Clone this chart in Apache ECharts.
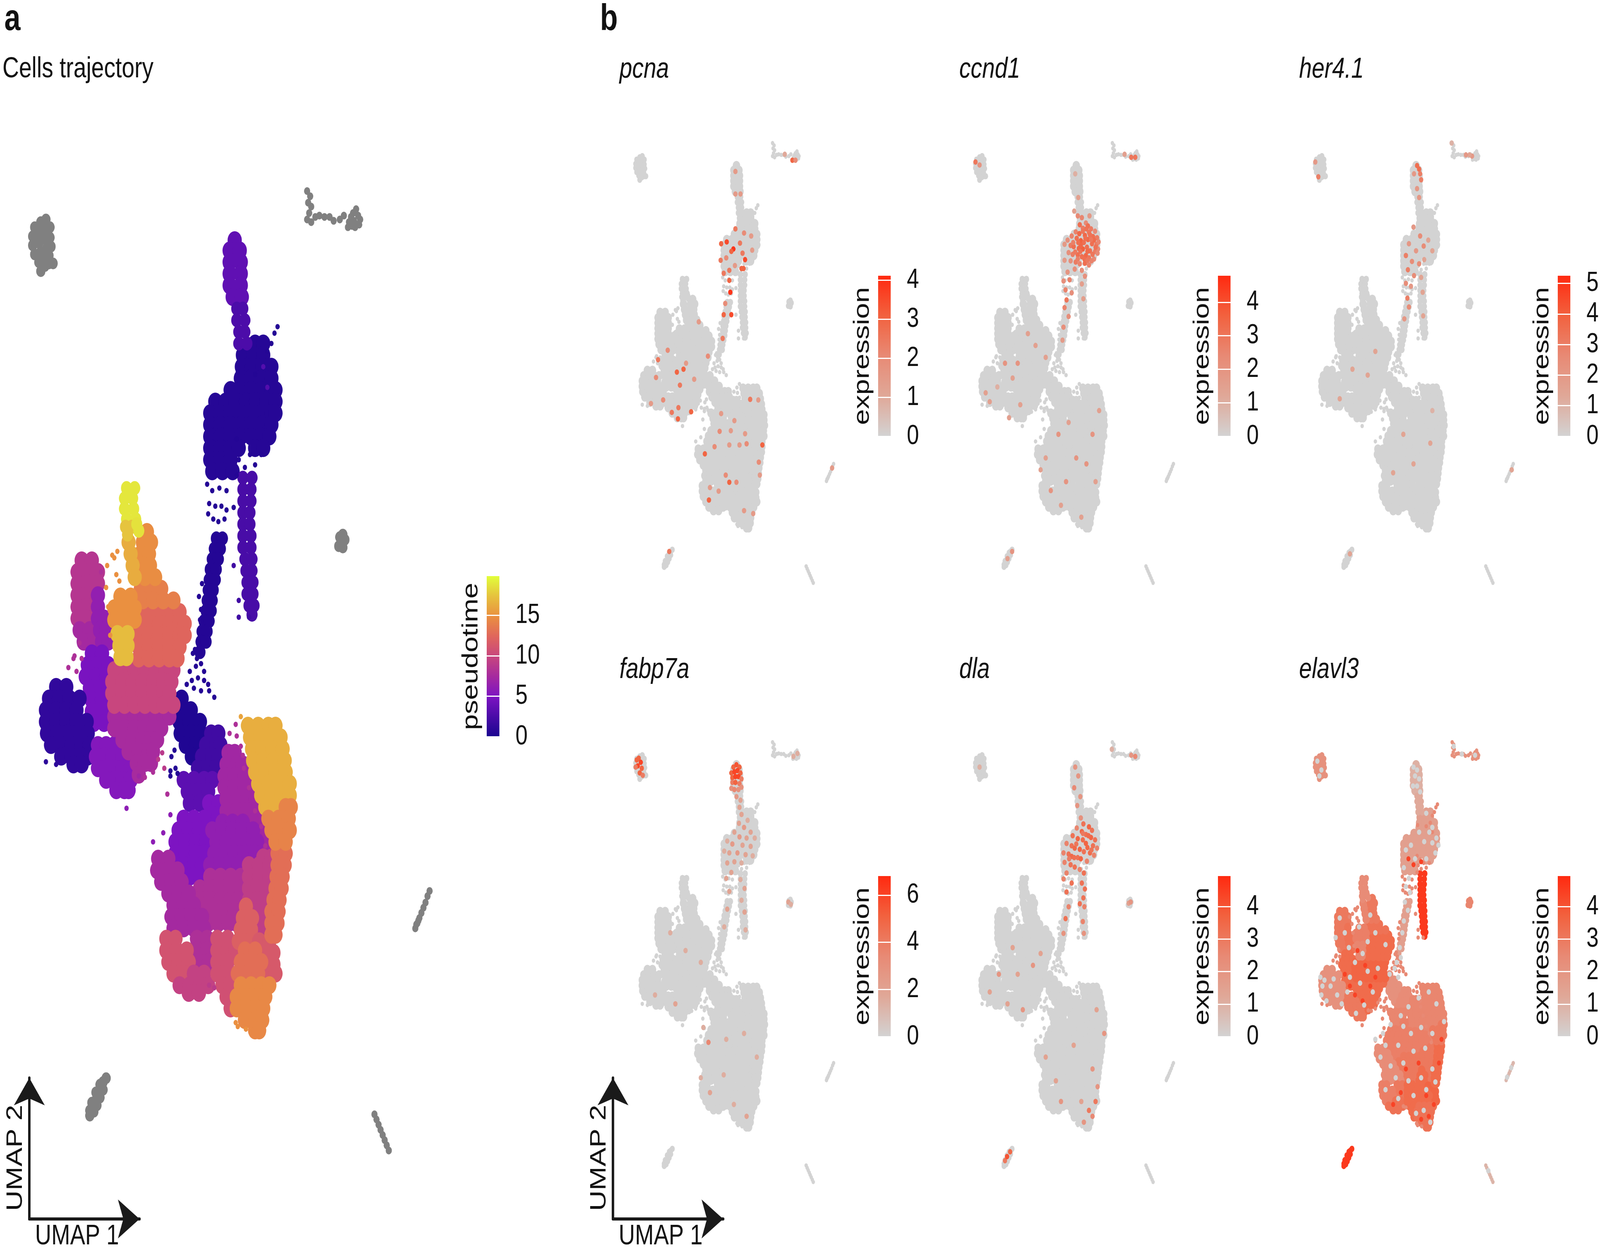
<!DOCTYPE html>
<html style="height: 100%">
<head>
    <meta charset="UTF-8">
    <script type="text/javascript" src="https://cdn.jsdelivr.net/npm/echarts@6/dist/echarts.min.js"></script>
    <style type="text/css">
        html, body {margin:0; padding:0; width:100%; height:100%; overflow:hidden; background:#fff}
    </style>
</head>
<body>
<div id="container" style="width:5184px;height:3203px;transform-origin:0 0"></div>
<script>
// all cell positions are in UMAP units of panel a (0-440 across, 0-900 down)
// patch = [pseudotime, elavl3 level, rows], row = [y, x, x, x ...]
var bodyPatches = [
    [3.6, 1.0, [[186,230],[194,225,235],[203,225,236],[212,225,236],[221,225,236],[230,228,237]]],
    [0.6, 1.6, [[266,250,258],[275,238,248,258],[284,237,247,257,266],[293,236,246,256,266],[302,226,236,246,256,266,270],[311,211,221,231,241,251,261,270],[320,206,216,226,236,246,256,266,270],[329,206,216,226,236,246,256,266],[338,206,216,226,236,246,256,264],[347,206,216,226,234,250,258],[356,206,216,226],[365,208,218,228]]],
    // lower navy block
    [0.3, 2.2, [[541,178],[550,177,187],[559,176,186,196],[568,177,187,197],[577,182,192],[586,188]]],
    [2.0, 2.4, [[568,207,214],[577,202,212,216],[586,198,208,214],[595,194,204,212]]],
    [3.4, 2.6, [[604,180,190,200,208],[613,184,194,204],[622,186,196]]],
    [5.0, 2.8, [[622,205,214],[631,208,214],[634,180,190,200],[643,175,185,195],[652,172,182,192,202],[661,172,182,192,200],[670,180,190,198],[679,186,196]]],
    [7.2, 2.6, [[583,224,230],[592,222,232,238],[601,220,230,240],[610,220,230,240,246],[619,222,232,242,250],[628,222,232,242,252],[637,248,256],[646,254,260],[655,258,264]]],
    [6.2, 2.8, [[637,218,228,238],[643,208,218,228,238,248],[652,212,222,232,242,252],[661,210,220,230,240,250],[670,206,216,226,234]]],
    [8.0, 3.0, [[679,206,216,226,236],[688,196,206,216,226,236,245],[697,196,206,216,226,233],[706,200,210,220,230],[715,204,214,224,232]]],
    [7.4, 2.4, [[665,155,165],[674,154,164,174],[683,158,168,178],[692,165,175,185],[701,170,180,190],[710,168,178,188,198],[719,170,180,190,200]]],
    [8.0, 3.0, [[727,193,203],[736,193,203],[745,195,205]]],
    [9.3, 3.0, [[664,258,266],[670,244,254,264],[679,244,254,264],[688,244,252,262],[697,244,253,262],[706,246,255,262],[715,254,262],[724,256]]],
    [11.0, 2.8, [[727,163,172],[736,163,173,183],[745,165,175,185],[754,170,180]]],
    [9.6, 3.2, [[754,190,200],[763,176,186,196,204],[769,185,195]]],
    [10.8, 3.4, [[727,213,223],[736,213,223,231],[745,213,223],[754,213,223],[763,218,226],[772,222],[781,226]]],
    [12.0, 3.4, [[702,241],[711,238,247],[720,236,246],[729,234,244]]],
    [11.5, 3.6, [[729,254,264],[738,260,268],[747,258,268],[754,262,270]]],
    [13.0, 3.4, [[661,272,280],[670,272,279],[679,271,277],[688,270,276],[697,268,274],[706,266,273],[715,266,272],[724,266,270],[736,240,250],[745,236,246,256],[754,233,243,253]]],
    [14.5, 3.2, [[763,236,246,256,264],[772,232,242,252,260],[781,232,242,252,258],[790,240,250,257],[798,250,254]]],
    [16.5, 2.6, [[562,243,253,263,270],[571,245,255,265,275],[580,247,257,267,277],[589,248,258,268,279],[598,250,260,270,280],[607,253,263,273,284],[616,256,266,276,284],[625,260,270]]],
    [14.2, 3.0, [[625,280,285],[634,263,273,283],[643,266,276,284],[652,270,280]]],
    // left body
    [8.6, 3.0, [[434,80,90],[443,76,86,96],[452,76,86,96],[461,76,86],[470,76,86],[479,76,86]]],
    [7.4, 3.0, [[488,78,88],[497,82,92]]],
    [6.3, 3.2, [[461,96],[470,96],[479,96,102],[488,98,104],[497,100,106]]],
    [4.8, 3.4, [[506,90,100],[515,86,96,106],[524,84,94,104],[533,88,98,106],[542,90,100],[551,90,102],[560,92,102]]],
    [1.2, 2.2, [[532,55,65],[541,48,58,68,78],[550,45,55,65,75],[559,45,55,65,75,85],[568,46,56,66,76,86],[577,50,60,70,80,88],[586,60,70,80,86],[592,72,80]]],
    [5.4, 3.0, [[577,96,104,112],[586,94,102,110,120],[595,96,104,112,120,128],[604,104,112,120,128],[612,114,122,126]]],
    [7.6, 3.4, [[555,112,122,132,142,152,160,166],[564,112,122,132,142,150,158],[573,120,130,140,148,154],[582,126,136,146,150],[591,134,142,148],[600,136]]],
    [10.0, 3.6, [[519,112,122,132,142,152,162,170],[528,110,120,130,140,150,160,168],[537,110,120,130,140,150,160,166],[546,112,122,132,142,152,160,170]]],
    [12.4, 3.4, [[474,138,148,158,168,176],[483,136,146,156,166,176,181],[492,136,146,156,166,176,181],[501,136,146,156,166,176],[510,136,146,156,166,174]]],
    [14.0, 3.2, [[456,138,148,158],[465,140,150,160,170]]],
    [14.8, 3.0, [[412,144],[420,140,148],[429,138,146],[438,140,147],[447,142,152]]],
    [15.0, 2.8, [[462,118,128],[471,112,122,132],[480,112,122,132]]],
    [16.4, 2.6, [[420,126],[429,128],[438,130],[447,132]]],
    [17.2, 2.6, [[491,115,125],[500,117,125],[509,118,124]]]
];
// narrow bits get a smaller dot
var thinPatches = [
    [2.6, 1.2, [[239,232,238],[248,232,240],[257,234,240],[266,234,242]]],
    [2.4, 4.6, [[370,238,247],[379,238,246],[388,238,246],[397,238,245],[406,238,245],[415,238,246],[424,238,246],[433,240,247],[442,241,247],[451,242,248],[460,242,248],[469,244,249],[476,247]]],
    [0.5, 1.6, [[417,212,218],[425,210,216],[433,208,214],[441,206,212],[449,205,211],[457,204,209],[465,203,208],[473,202,207],[481,200,205],[489,198,203],[497,197,202],[505,196]]],
    [19.0, 2.4, [[378,124,132],[386,122,130],[394,122,131],[402,124,133]]],
    [17.6, 2.4, [[408,123,129],[414,125]]],
    [18.8, 2.4, [[406,134],[411,136]]]
];
// [x, y, pseudotime]
var strayCells = [
    [203,375,0.5],[208,380,0.5],[215,378,0.5],[222,380,0.5],[205,390,0.5],[211,392,0.5],[217,392,0.5],[204,398,0.5],[209,402,0.5],[214,404,0.5],[220,402,0.5],[222,395,0.5],[229,393,0.5],
    [232,340,0.5],[238,346,0.5],[245,352,0.5],[234,356,0.5],[240,362,0.5],[250,360,0.5],[256,352,0.5],[232,368,0.5],[262,300,3],[258,284,3],[262,272,0.5],[266,266,0.5],[269,258,0.5],[272,253,0.5],[250,290,0.5],[233,288,0.5],
    [198,452,0.5],[195,462,0.5],[197,472,0.5],[196,480,0.5],[191,503,0.5],[193,510,0.5],[189,506,0.5],[192,516,0.5],[197,514,0.5],[200,520,0.5],[186,520,0.5],[188,527,0.5],[194,525,0.5],[200,527,0.5],[204,530,0.5],[183,530,0.5],[190,533,0.5],[197,535,0.5],[205,535,0.5],[210,540,0.5],[229,438,2],[234,465,2],[234,478,2],[244,478,2],
    [110,430,15],[115,427,15],[112,432,15],[105,438,15],[114,445,15],[117,450,15],[99,443,8],[104,455,15],[106,470,15],[108,492,15],
    [72,510,8],[75,520,8],[67,517,8],[73,508,8],[78,498,8],[80,510,8],
    [159,583,9],[155,588,9],[161,595,9],[150,598,8],[142,602,8],[136,601,7],[124,626,6],[167,631,6],[150,652,6],[160,645,6],[164,615,8],
    [236,555,16],[231,561,8],[225,568,8],[232,570,8],[236,578,8],[238,585,8],[239,595,8],[244,610,8],[250,628,8],[256,640,8],[260,655,8],
    [171,581,0.5],[168,586,0.5],[167,597,0.5],[167,601,0.5],[172,595,0.5],[174,599,0.5],
    [231,792,15],[233,795,15],[241,797,15],[205,763,9],[210,765,9],[45,590,1],[55,592,1]
];
// islands: [elavl3 level, flat x,y pairs]
var islandTopLeft = [2.2, [34,176,40,172,45,170,32,183,38,180,44,177,49,176,32,190,38,188,44,185,49,184,34,197,40,195,46,192,50,191,38,203,44,200,48,198,40,210,44,206,48,204,52,204]];
var islandTopRight = [2.2, [301,148,304,152,302,157,305,160,303,165,301,170,305,172,309,168,313,167,318,168,323,168,327,171,333,170,337,167,342,172,347,171,351,167,345,175,350,174,353,170,349,162,344,168,348,176,352,174,346,165,341,176]];
var islandSmall = [2.6, [333,416,336,414,335,420,332,423,336,424,338,418]];
var stickRight = [0.8, [421,690,419,694,417,699,415,703,413,707,411,711,409,715,407,719,408,716,410,713]];
var stickLow = [0.9, [367,863,369,867,371,871,373,875,375,879,377,883,379,887,381,891]];
var islandLow = [4.6, [104,835,101,838,98,840,101,844,97,846,94,846,98,850,94,852,90,854,95,856,91,858,88,860,92,861,88,864]];
var blobIslands = [islandTopLeft, islandSmall, islandLow];
var lineIslands = [islandTopRight, stickRight, stickLow];

var geneNames = ['pcna', 'ccnd1', 'her4.1', 'fabp7a', 'dla', 'elavl3'];
var geneMax = [4.11, 4.79, 5.25, 6.81, 4.94, 4.94];
var geneTicks = [[0,1,2,3,4], [0,1,2,3,4], [0,1,2,3,4,5], [0,2,4,6], [0,1,2,3,4], [0,1,2,3,4]];
var pseudotimeTicks = [0, 5, 10, 15];
var pseudotimeMax = 19.85;

// expressing cells, [x, y, expression]
var pcnaCells = [[211,315,3.5],[200,318,3],[224,327,3.9],[220,331,3],[228,293,2.5],[245,300,2],[237,317,2.5],[242,334,2.5],[259,305,1.5],[199,346,2.5],[210,342,2],[227,355,1.5],[240,360,3],[244,360,3],[205,368,2.5],[216,363,2.5],[216,380,3],[218,400,3.9],[208,419,2],[205,438,3],[220,438,3.5],[203,478,2.5],[228,234,1.5],[238,234,1.5],[228,196,1.5],[247,345,3.5],[261,329,1.5],[95,498,2],[76,514,2.5],[72,544,2],[113,535,3],[119,557,2.5],[126,530,3],[131,520,1.5],[156,450,1.5],[116,595,2.5],[103,603,2.5],[115,614,3],[141,602,3],[86,582,2],[62,588,1.5],[174,508,2],[147,547,1.5],[197,635,2],[219,634,1.5],[168,673,3],[187,661,2],[216,658,1.5],[236,658,1.5],[250,656,2],[281,658,3],[274,687,2],[209,709,2],[216,721,3],[230,721,2],[178,730,1.5],[176,751,3],[195,736,1.5],[257,581,2.5],[273,582,1.5],[226,617,1.5],[200,605,1.5],[247,639,1.5],[263,774,1.5],[276,709,1.5],[245,769,1.5],[340,177,3],[346,177,2],[325,167,1],[418,697,1.5],[98,838,2.5]];
var ccnd1Cells = [[226,263,1.5],[233,271,2.4],[241,274,2.5],[249,283,2.4],[256,271,1.8],[237,286,3.2],[243,292,2.8],[253,288,3.2],[259,293,2.8],[267,297,2.4],[229,298,2.6],[236,301,3.4],[247,304,3.4],[255,299,3],[263,306,3.2],[271,308,2.8],[221,305,2.6],[213,312,2.2],[231,309,3.2],[239,313,3.6],[245,316,3.2],[253,311,3.4],[261,318,3.2],[270,319,2.8],[207,319,1.8],[219,321,2.8],[225,323,3.2],[235,326,3.4],[243,327,3.6],[251,324,3.2],[257,330,3.2],[267,331,2.8],[273,327,2.4],[215,333,2.2],[223,336,2.8],[233,337,3.2],[241,340,3.2],[249,338,3.4],[255,342,3],[265,344,2.4],[219,347,2.2],[229,349,2.8],[237,352,2.6],[247,351,3.2],[255,354,2.6],[207,346,1.7],[227,361,2.2],[213,366,2],[241,363,2.2],[247,373,2.1],[243,297,3],[250,293,3.1],[265,312,3.3],[259,311,2.9],[274,315,2.5],[268,324,3.1],[262,336,3],[239,321,3.4],[228,332,2.9],[246,344,3.2],[233,344,2.7],[224,316,2.7],[252,331,3.3],[238,331,3.1],[257,303,3.1],[272,334,2.4],[260,347,2.6],[252,346,2.9],[234,316,3.2],[248,309,3.2],[205,381,2.2],[217,379,2.6],[209,396,2.6],[221,401,2.2],[211,413,3],[207,426,2.6],[215,441,2.2],[205,459,2.2],[203,481,1.7],[241,386,1.6],[244,411,1.6],[228,200,1],[234,240,1.5],[52,570,1.5],[60,585,1.5],[90,520,2],[105,545,1.5],[120,590,1.5],[150,490,1.5],[170,510,1.5],[135,470,1.5],[98,612,1.5],[115,520,2],[75,560,1],[170,680,1.5],[195,640,2],[215,620,1.5],[230,680,2],[262,640,2],[250,690,2],[268,720,1.5],[180,735,2],[200,760,1.5],[240,780,1.5],[210,720,2],[275,600,1.5],[160,700,1.5],[32,180,3],[40,185,2],[338,172,3],[346,172,3],[325,167,1.5],[95,850,1.5],[104,838,2]];
var her41Cells = [[232,186,3.5],[236,192,3.5],[238,200,3],[226,200,2],[240,210,3],[232,225,2],[236,240,2],[225,290,2],[238,305,2.5],[216,318,2],[245,322,2.5],[230,330,2],[210,338,3],[254,312,1.5],[262,330,1.5],[222,348,2.5],[236,352,2.5],[246,345,1.5],[214,362,3],[226,372,2.5],[210,385,2.5],[220,390,2],[240,375,1.5],[243,400,1.5],[213,410,3],[216,425,2.5],[207,445,2],[244,440,1.5],[32,180,2],[38,205,3],[105,530,1.5],[135,540,1.5],[150,500,1.5],[80,580,1.5],[205,640,1.5],[225,690,1.5],[258,655,1.5],[185,705,1.5],[340,170,2],[335,168,1.5],[328,168,2],[300,148,1],[418,700,1.5],[100,842,1.5],[262,600,1]];
var fabp7aCells = [[224,190,5],[230,186,5.5],[236,190,5],[220,200,5],[226,198,6],[232,196,6],[238,200,5],[222,208,5],[228,206,6],[234,206,6],[240,210,4],[222,216,4],[228,216,5],[236,218,4],[220,226,3],[226,228,3.5],[234,228,3],[240,224,3],[230,240,2.5],[238,246,2],[236,258,2],[240,270,2],[252,280,1.5],[235,285,2],[245,292,2.5],[258,300,2],[226,300,2],[236,308,2.5],[250,310,2],[266,310,1.5],[212,315,1.5],[222,320,2.5],[242,322,2],[258,324,2],[206,332,1.5],[216,335,2],[232,335,2.5],[248,338,2],[262,340,1.5],[212,352,2],[226,350,2],[240,352,1.5],[220,368,2],[210,378,2],[238,380,1.5],[246,395,2],[216,400,2],[240,415,1.5],[246,435,2],[212,430,2],[206,460,1.5],[248,465,1.5],[34,178,5],[38,175,5],[42,182,6],[36,188,6],[44,192,5],[40,200,5],[46,204,4],[32,190,4],[100,470,1.5],[130,500,1.5],[160,520,1.5],[70,575,1.5],[110,590,2],[165,630,1.5],[175,655,3.5],[210,650,1.5],[245,640,1.5],[270,680,1.5],[205,710,1.5],[225,760,1.5],[250,780,2],[178,740,2],[160,715,1.5],[350,167,1.5],[342,172,1.5],[332,418,2],[337,422,1.5]];
var dlaCells = [[239,276,2.2],[244,286,3.2],[255,291,3.6],[261,297,3.2],[231,293,2.6],[241,299,3.6],[249,304,3.2],[259,309,3.6],[267,313,3.2],[223,306,3.2],[233,311,3.6],[243,313,3.4],[249,319,3.6],[263,323,3.2],[271,327,2.7],[211,319,2.7],[221,323,3.2],[227,327,3.5],[237,329,3.6],[245,333,3.2],[257,335,3.4],[265,339,2.7],[205,335,2.7],[215,337,3.2],[221,341,3.5],[233,343,3.2],[239,345,3.6],[251,349,2.7],[207,351,2.7],[219,355,3.2],[227,359,3.2],[237,363,2.7],[245,369,3.2],[211,369,2.7],[205,379,2.7],[221,386,3.2],[241,386,3.2],[247,396,3.2],[244,411,3.2],[211,401,3.2],[237,421,3.2],[246,426,2.7],[215,426,2.7],[209,446,3.2],[243,451,2.7],[245,471,2.1],[205,471,2.1],[228,190,2],[234,205,2],[226,225,2.5],[238,240,2],[232,255,2],[254,306,3.4],[230,320,3.1],[252,326,3.5],[216,345,2.9],[243,302,3],[260,330,3.1],[226,343,3.3],[105,495,1.5],[78,540,2],[115,540,1.5],[145,525,2],[160,505,1.5],[60,570,1.5],[95,590,1.5],[125,600,2],[170,680,1.5],[190,720,1.5],[225,660,1.5],[262,700,2],[268,755,3],[255,770,3],[262,780,2.5],[245,790,2],[240,755,1.5],[272,730,2],[200,755,2],[285,640,2],[270,600,1.5],[90,855,3],[100,840,3.5],[94,848,4],[338,170,2],[346,172,2.5],[300,160,1],[333,420,1.5],[337,418,2],[40,190,1]];
// elavl3 is on nearly everywhere, so these list the cells that are off and the brightest ones
var elavl3Off = [[225,190],[232,195],[228,205],[236,210],[224,222],[232,222],[238,232],[250,268],[262,292],[270,310],[274,322],[262,318],[256,300],[268,335],[246,316],[236,300],[220,322],[210,330],[228,345],[250,345],[206,360],[216,378],[210,392],[218,402],[208,418],[214,432],[206,450],[203,470],[198,495],[192,520],[188,530],[200,512],[178,540],[195,545],[42,545],[46,560],[44,575],[50,550],[54,585],[62,560],[68,548],[75,575],[84,590],[80,445],[90,470],[72,478],[98,495],[110,520],[125,505],[135,485],[150,470],[118,460],[140,440],[100,545],[120,555],[135,535],[155,530],[170,490],[145,570],[128,592],[112,606],[95,570],[180,625],[200,610],[215,595],[235,580],[255,570],[270,590],[285,620],[262,640],[240,630],[220,640],[195,660],[170,660],[160,680],[180,695],[205,690],[225,670],[248,665],[262,700],[240,715],[215,720],[190,715],[170,735],[195,750],[225,745],[250,735],[268,722],[245,770],[230,775],[258,790],[205,628],[150,650],[165,640],[36,180],[44,195],[40,205],[304,155],[320,168],[346,170],[409,714],[417,698],[372,872]];
var elavl3High = [[100,560,4.4],[110,575,4.4],[125,585,4.4],[140,560,4.4],[150,545,4.4],[130,525,4.4],[90,540,4.4],[115,500,4.4],[210,700,4.4],[235,690,4.4],[250,745,4.4],[265,760,4.4],[240,785,4.4],[255,780,4.4],[200,740,4.4],[185,760,4.4],[275,690,4.4],[280,650,4.4],[225,355,4.4],[215,345,4.4],[240,350,4.4]];
var elavl3StrayLevel = 2.5;
var geneCells = [pcnaCells, ccnd1Cells, her41Cells, fabp7aCells, dlaCells];

var plasma = ['#1a0590','#4a0ca8','#7d14c2','#a62a9f','#c8467e','#e0665c','#ea9040','#e6c23e','#e2ff3a'];
var greyRed = ['#d3d3d3','#e0a898','#e88a75','#f2623f','#ff2a10'];
var textFont = '"Liberation Sans", Arial, sans-serif';

function expandPatch(patch, which) {
    var out = [];
    patch[2].forEach(function (row) {
        for (var i = 1; i < row.length; i++) {
            out.push([row[i], row[0], patch[which]]);
        }
    });
    return out;
}
function patchCells(list, which) {
    var out = [];
    list.forEach(function (p) { out = out.concat(expandPatch(p, which)); });
    return out;
}
function islandPoints(list, useLevel) {
    var out = [];
    list.forEach(function (isl) {
        for (var i = 0; i < isl[1].length; i += 2) {
            out.push([isl[1][i], isl[1][i + 1], useLevel ? isl[0] : 0]);
        }
    });
    return out;
}
function flat(cells) {
    return cells.map(function (c) { return [c[0], c[1], 0]; });
}

var grids = [], xAxes = [], yAxes = [], series = [], visualMaps = [], titles = [];

function addPanelGrid(left, top, width, height) {
    grids.push({left: left, top: top, width: width, height: height});
    xAxes.push({gridIndex: grids.length - 1, type: 'value', min: 0, max: 440, show: false});
    yAxes.push({gridIndex: grids.length - 1, type: 'value', min: 0, max: 900, inverse: true, show: false});
    return {x: xAxes.length - 1, y: yAxes.length - 1};
}
function addDots(panel, data, size, color) {
    var s = {
        type: 'scatter', xAxisIndex: panel.x, yAxisIndex: panel.y, data: data, symbolSize: size,
        silent: true, animation: false, encode: {x: 0, y: 1}
    };
    if (color) s.itemStyle = {color: color, opacity: 1};
    else s.itemStyle = {opacity: 1};
    series.push(s);
    return series.length - 1;
}
function addColorbar(left, top, height, max, ticks, colors, name, nameGap) {
    var g = grids.length;
    grids.push({left: left, top: top, width: 41, height: height});
    var xIdx = xAxes.length;
    xAxes.push({gridIndex: g, type: 'category', data: [''], show: false});
    var stops = colors.map(function (c, i) { return {offset: i / (colors.length - 1), color: c}; });
    var rightAxis = yAxes.length;
    yAxes.push({
        gridIndex: g, type: 'value', position: 'right', min: 0, max: max, z: 10,
        splitLine: {show: false}, axisLine: {show: false},
        axisTick: {show: true, inside: true, length: 41, customValues: ticks, lineStyle: {color: '#fff', width: 3}},
        axisLabel: {show: true, margin: 52, customValues: ticks, color: '#111', fontSize: 71, fontFamily: textFont}
    });
    yAxes.push({
        gridIndex: g, type: 'value', position: 'left', min: 0, max: max,
        splitLine: {show: false}, axisLine: {show: false}, axisTick: {show: false}, axisLabel: {show: false},
        name: name, nameLocation: 'middle', nameRotate: 90, nameGap: nameGap,
        nameTextStyle: {color: '#111', fontSize: 73, fontFamily: textFont}
    });
    series.push({
        type: 'bar', xAxisIndex: xIdx, yAxisIndex: rightAxis, data: [max], barWidth: '100%', silent: true, animation: false,
        itemStyle: {color: new echarts.graphic.LinearGradient(0, 1, 0, 0, stops)}
    });
}
function addArrows(left) {
    var g = grids.length;
    grids.push({left: left, top: 2760, width: 357, height: 361});
    var arrowLine = {
        show: true, onZero: false, symbol: ['none', 'arrow'], symbolSize: [75, 70],
        lineStyle: {color: '#1a1a1a', width: 8}
    };
    var nameStyle = {color: '#111', fontSize: 73, fontFamily: textFont, padding: [0, 48, 0, 0]};
    xAxes.push({
        gridIndex: g, type: 'value', min: 0, max: 1, axisLine: arrowLine, axisTick: {show: false},
        axisLabel: {show: false}, splitLine: {show: false},
        name: 'UMAP 1', nameLocation: 'middle', nameGap: 8, nameTextStyle: nameStyle
    });
    yAxes.push({
        gridIndex: g, type: 'value', min: 0, max: 1, axisLine: arrowLine, axisTick: {show: false},
        axisLabel: {show: false}, splitLine: {show: false},
        name: 'UMAP 2', nameLocation: 'middle', nameGap: 8, nameTextStyle: nameStyle
    });
}
function addText(text, left, top, size, extra) {
    var style = {color: '#111', fontSize: size, fontFamily: textFont, fontWeight: 'normal'};
    for (var k in extra) style[k] = extra[k];
    titles.push({text: text, left: left, top: top, padding: 0, textStyle: style});
}

// panel a
var panelA = addPanelGrid(0, 0, 1454.6, 2975.4);
addDots(panelA, islandPoints(blobIslands, false), 30, '#808080');
addDots(panelA, islandPoints(lineIslands, false), 20, '#808080');
var seriesA = [
    addDots(panelA, patchCells(bodyPatches, 0), 46),
    addDots(panelA, patchCells(thinPatches, 0), 36),
    addDots(panelA, strayCells, 14)
];
visualMaps.push({show: false, seriesIndex: seriesA, dimension: 2, min: 0, max: 20, inRange: {color: plasma}});
addColorbar(1577, 1475, 411, pseudotimeMax, pseudotimeTicks, plasma, 'pseudotime', 14);
addArrows(95);
addArrows(1986);

// panel b
geneNames.forEach(function (name, i) {
    var col = i % 3, row = Math.floor(i / 3);
    var p = addPanelGrid(2006.8 + col * 1101, 142 + row * 1534, 725.4, 1364);
    var list = [];
    if (i < 5) {
        addDots(p, flat(patchCells(bodyPatches, 1)), 24, '#d3d3d3');
        addDots(p, flat(patchCells(thinPatches, 1)), 18, '#d3d3d3');
        addDots(p, flat(strayCells), 11, '#d3d3d3');
        addDots(p, islandPoints(blobIslands, false), 16, '#d3d3d3');
        addDots(p, islandPoints(lineIslands, false), 11, '#d3d3d3');
        list.push(addDots(p, geneCells[i], 14));
    } else {
        list.push(addDots(p, patchCells(bodyPatches, 1), 24));
        list.push(addDots(p, patchCells(thinPatches, 1), 18));
        list.push(addDots(p, strayCells.map(function (c) { return [c[0], c[1], elavl3StrayLevel]; }), 11));
        list.push(addDots(p, islandPoints(blobIslands, true), 16));
        list.push(addDots(p, islandPoints(lineIslands, true), 11));
        list.push(addDots(p, elavl3High, 13));
        addDots(p, flat(elavl3Off), 14, '#d3d3d3');
    }
    visualMaps.push({show: false, seriesIndex: list, dimension: 2, min: 0, max: geneMax[i], inRange: {color: greyRed}});
    addColorbar(2845 + col * 1101, 706 + row * 1537, 411, geneMax[i], geneTicks[i], greyRed, 'expression', 14);
    addText(name, 2007 + col * 1101, 141 + row * 1537, 74, {fontStyle: 'italic'});
});

addText('a', 14, 4, 94, {fontWeight: 'bold'});
addText('b', 1944, 4, 94, {fontWeight: 'bold'});
addText('Cells trajectory', 8, 141, 74, {});

// the sandbox window can come up narrower than the figure, so fit the full figure into it
var box = document.getElementById('container');
box.style.transform = 'scale(' + (window.innerWidth / 5184) + ',' + (window.innerHeight / 3203) + ')';

var myChart = echarts.init(box, null, {renderer: 'canvas', width: 5184, height: 3203});
myChart.setOption({
    backgroundColor: '#fff',
    animation: false,
    title: titles,
    grid: grids,
    xAxis: xAxes,
    yAxis: yAxes,
    visualMap: visualMaps,
    series: series
});
</script>
</body>
</html>
